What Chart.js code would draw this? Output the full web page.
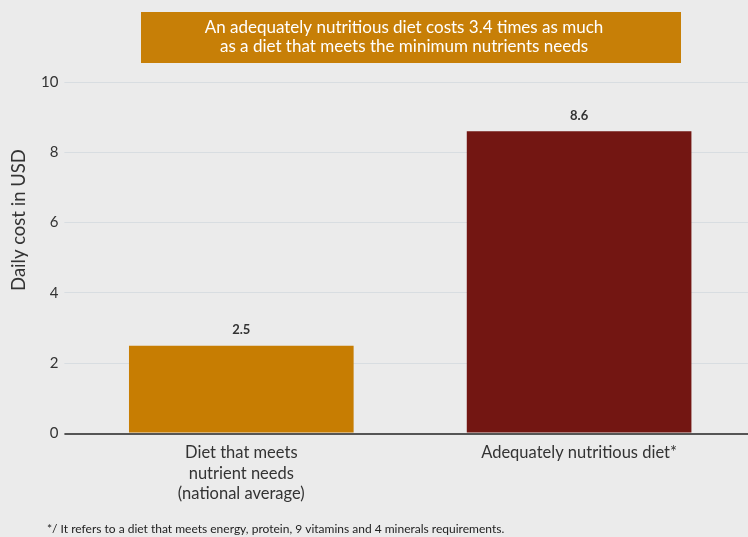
<!DOCTYPE html>
<html>
<head>
<meta charset="utf-8">
<script src="https://cdn.jsdelivr.net/npm/chart.js@4"></script>
<style>
  html, body { margin: 0; padding: 0; background: #ebebeb; }
  #wrap { width: 748px; height: 537px; }
</style>
</head>
<body>
<div id="wrap"><canvas id="myChart" width="748" height="537"></canvas></div>
<script>
var arrLabels = [['Diet that meets', 'nutrient needs', '(national average)'], 'Adequately nutritious diet*']
var arrDados = [2.5, 8.6]
var arrCores = ['#c77d02', '#731612']
var tituloLinhas = ['An adequately nutritious diet costs 3.4 times as much', 'as a diet that meets the minimum nutrients needs']
var tituloEixoY = 'Daily cost in USD'
var rodape = '*/ It refers to a diet that meets energy, protein, 9 vitamins and 4 minerals requirements.'

const fonte = 'Lato, "Open Sans", sans-serif'

// caixa laranja com o título em cima do gráfico
const caixaTitulo = {
    id: 'caixaTitulo',
    beforeDraw(chart) {
        const ctx = chart.ctx
        ctx.save()
        ctx.fillStyle = '#c77f07'
        ctx.fillRect(141, 12, 540, 51)
        ctx.font = '17px ' + fonte
        ctx.fillStyle = '#ffffff'
        ctx.textAlign = 'center'
        ctx.textBaseline = 'middle'
        ctx.fillText(tituloLinhas[0], 404, 28)
        ctx.fillText(tituloLinhas[1], 404, 47)
        ctx.restore()
    }
}

// valor em cima de cada barra, título do eixo y e nota de rodapé
const rotulos = {
    id: 'rotulos',
    afterDatasetsDraw(chart) {
        const ctx = chart.ctx
        ctx.save()
        ctx.font = 'bold 13px ' + fonte
        ctx.fillStyle = '#333'
        ctx.textAlign = 'center'
        ctx.textBaseline = 'bottom'
        chart.getDatasetMeta(0).data.forEach((bar, i) => {
            ctx.fillText(arrDados[i].toFixed(1), bar.x, bar.y - 9)
        })

        ctx.save()
        ctx.translate(19, 220)
        ctx.rotate(-Math.PI / 2)
        ctx.font = '18.5px ' + fonte
        ctx.textBaseline = 'middle'
        ctx.fillText(tituloEixoY, 0, 0)
        ctx.restore()

        ctx.font = '12px ' + fonte
        ctx.fillStyle = '#222'
        ctx.textAlign = 'left'
        ctx.textBaseline = 'middle'
        ctx.fillText(rodape, 47, 529)
        ctx.restore()
    }
}

const data = {
    labels: arrLabels,
    datasets: [{
        data: arrDados,
        backgroundColor: arrCores,
        borderWidth: 0,
        barPercentage: 0.665,
        categoryPercentage: 1
    }]
}

const opcoes = {
    responsive: false,
    animation: false,
    layout: {
        padding: { top: 82, left: 35, right: 0, bottom: 32 }
    },
    plugins: {
        legend: { display: false },
        tooltip: { enabled: false }
    },
    scales: {
        x: {
            grid: { display: false },
            border: { display: true, color: '#555', width: 2 },
            ticks: {
                color: '#333',
                font: { family: fonte, size: 16.5, lineHeight: 1.24 },
                padding: 1,
                maxRotation: 0
            }
        },
        y: {
            min: 0,
            max: 10,
            ticks: {
                stepSize: 2,
                color: '#333',
                font: { family: fonte, size: 15 },
                padding: 6
            },
            border: { display: false },
            grid: {
                color: (c) => c.tick && c.tick.value === 0 ? '#555' : '#d8dde1',
                lineWidth: (c) => c.tick && c.tick.value === 0 ? 2 : 1,
                tickLength: 8
            }
        }
    }
}

const config = {
    type: 'bar',
    data: data,
    options: opcoes,
    plugins: [caixaTitulo, rotulos]
}

const grafico = new Chart(document.getElementById('myChart'), config)
</script>
</body>
</html>
